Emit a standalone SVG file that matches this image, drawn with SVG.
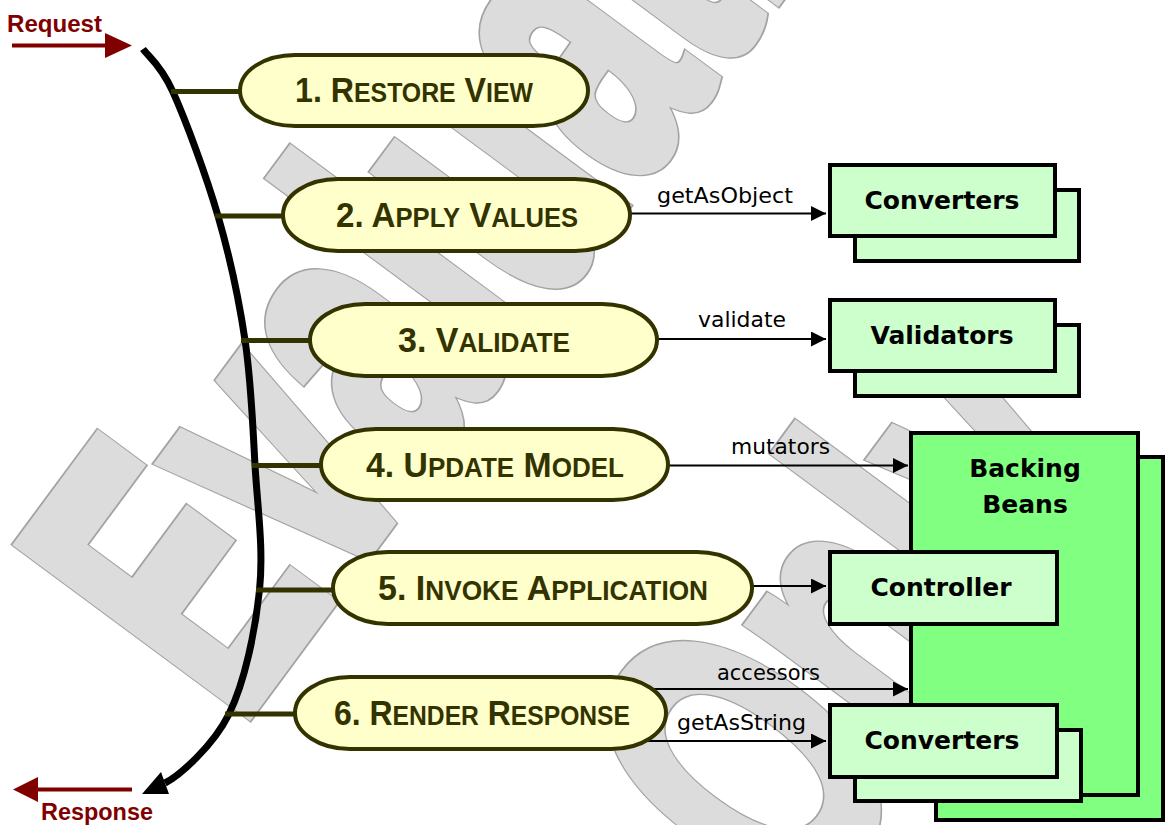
<svg xmlns="http://www.w3.org/2000/svg" width="1169" height="825" viewBox="0 0 1169 825">
<style>
.wmo{font-family:"Liberation Sans",Arial,sans-serif;font-weight:bold;font-size:409px;fill:none;stroke:#a3a3a3;stroke-width:15;stroke-linejoin:miter}
.wmi{font-family:"Liberation Sans",Arial,sans-serif;font-weight:bold;font-size:409px;fill:#dcdcdc;stroke:#dcdcdc;stroke-width:12;stroke-linejoin:miter}
.pill{fill:#ffffcc;stroke:#333300;stroke-width:4}
.ptxt{font-family:"Liberation Sans",Arial,sans-serif;font-weight:bold;fill:#333300;font-size:35px}
.sc{font-size:27px}
.tie{stroke:#333300;stroke-width:5;fill:none}
.box{fill:#ccffcc;stroke:#000;stroke-width:4}
.bean{fill:#80ff80;stroke:#000;stroke-width:4}
.btxt{font-family:"DejaVu Sans",Verdana,sans-serif;font-weight:bold;font-size:25px;fill:#000;text-anchor:middle}
.lbl{font-family:"DejaVu Sans",Verdana,sans-serif;font-size:21.5px;fill:#000}
.ln{stroke:#000;stroke-width:2;fill:none}
.io{font-family:"Liberation Sans",Arial,sans-serif;font-weight:bold;font-size:23px;fill:#800000}
</style>
<defs>
<marker id="ah" viewBox="0 0 15 15" refX="15" refY="7.5" markerWidth="15" markerHeight="15" markerUnits="userSpaceOnUse" orient="auto">
<path d="M0,0 L15,7.5 L0,15 z" fill="#000"/>
</marker>
</defs>

<g id="watermark">
<text class="wmo" vector-effect="non-scaling-stroke" transform="translate(237,726.5) rotate(-53.5) scale(0.61,1)">Evaluation</text>
<text class="wmo" vector-effect="non-scaling-stroke" transform="translate(800,923.5) rotate(-53.5) scale(0.61,1)">Only</text>
<text class="wmi" vector-effect="non-scaling-stroke" transform="translate(237,726.5) rotate(-53.5) scale(0.61,1)">Evaluation</text>
<text class="wmi" vector-effect="non-scaling-stroke" transform="translate(800,923.5) rotate(-53.5) scale(0.61,1)">Only</text>
</g>

<g id="request">
<line x1="12" y1="45.5" x2="107" y2="45.5" stroke="#800000" stroke-width="4"/>
<polygon points="105,33 132,45.5 105,58" fill="#800000"/>
<text class="io" x="7" y="32" textLength="95" lengthAdjust="spacingAndGlyphs">Request</text>
</g>
<g id="response">
<line x1="36" y1="789.5" x2="132" y2="789.5" stroke="#800000" stroke-width="4"/>
<polygon points="13,789.5 38,777 38,802" fill="#800000"/>
<text class="io" x="41" y="820" textLength="112" lengthAdjust="spacingAndGlyphs">Response</text>
</g>

<g id="connectors">
<path d="M143,49 C148,56.2 160.5,64.2 173,92 C185.5,119.8 206,174.7 218,216 C230,257.3 238.8,298.5 245,340 C251.2,381.5 252.6,423.3 255,465 C257.4,506.7 263.8,548.5 259.5,590 C255.2,631.5 244.75,682 229,714 C213.25,746 179,776 165,783" fill="none" stroke="#000" stroke-width="7"/>
<polygon points="142,794 169,794 161,772" fill="#000"/>
<line class="tie" x1="171" y1="91.5" x2="242" y2="91.5"/>
<line class="tie" x1="215" y1="216" x2="285" y2="216"/>
<line class="tie" x1="241" y1="340.5" x2="312" y2="340.5"/>
<line class="tie" x1="252" y1="465.5" x2="323" y2="465.5"/>
<line class="tie" x1="256" y1="590" x2="335" y2="590"/>
<line class="tie" x1="225" y1="714" x2="297" y2="714"/>
<line class="ln" x1="630" y1="213.5" x2="826" y2="213.5" marker-end="url(#ah)"/>
<line class="ln" x1="657" y1="339" x2="826" y2="339" marker-end="url(#ah)"/>
<line class="ln" x1="668" y1="465.5" x2="908" y2="465.5" marker-end="url(#ah)"/>
<line class="ln" x1="752" y1="586" x2="826" y2="586" marker-end="url(#ah)"/>
<line class="ln" x1="652" y1="689" x2="908" y2="689" marker-end="url(#ah)"/>
<line class="ln" x1="645" y1="741" x2="826" y2="741" marker-end="url(#ah)"/>
<text class="lbl" x="657" y="202.5" textLength="136" lengthAdjust="spacingAndGlyphs">getAsObject</text>
<text class="lbl" x="698" y="326.5" textLength="88" lengthAdjust="spacingAndGlyphs">validate</text>
<text class="lbl" x="731" y="454" textLength="99" lengthAdjust="spacingAndGlyphs">mutators</text>
<text class="lbl" x="717" y="680" textLength="103" lengthAdjust="spacingAndGlyphs">accessors</text>
<text class="lbl" x="677" y="729.5" textLength="129" lengthAdjust="spacingAndGlyphs">getAsString</text>
</g>

<g id="phase1">
<rect class="pill" x="240" y="55" width="348" height="71" rx="55" ry="35.5"/>
<text class="ptxt" x="295" y="102" textLength="238" lengthAdjust="spacingAndGlyphs">1. R<tspan class="sc">ESTORE</tspan> V<tspan class="sc">IEW</tspan></text>
</g>
<g id="phase2">
<rect class="pill" x="283" y="179" width="347" height="72" rx="55" ry="36"/>
<text class="ptxt" x="336" y="226.5" textLength="242" lengthAdjust="spacingAndGlyphs">2. A<tspan class="sc">PPLY</tspan> V<tspan class="sc">ALUES</tspan></text>
</g>
<g id="phase3">
<rect class="pill" x="310" y="304" width="347" height="72" rx="55" ry="36"/>
<text class="ptxt" x="398" y="351.5" textLength="172" lengthAdjust="spacingAndGlyphs">3. V<tspan class="sc">ALIDATE</tspan></text>
</g>
<g id="phase4">
<rect class="pill" x="321" y="429" width="347" height="71" rx="55" ry="35.5"/>
<text class="ptxt" x="366" y="476.5" textLength="258" lengthAdjust="spacingAndGlyphs">4. U<tspan class="sc">PDATE</tspan> M<tspan class="sc">ODEL</tspan></text>
</g>
<g id="phase5">
<rect class="pill" x="333" y="552" width="419" height="72" rx="55" ry="36"/>
<text class="ptxt" x="378" y="599.5" textLength="330" lengthAdjust="spacingAndGlyphs">5. I<tspan class="sc">NVOKE</tspan> A<tspan class="sc">PPLICATION</tspan></text>
</g>
<g id="phase6">
<rect class="pill" x="295" y="677" width="371" height="72" rx="55" ry="36"/>
<text class="ptxt" x="334" y="724.5" textLength="296" lengthAdjust="spacingAndGlyphs">6. R<tspan class="sc">ENDER</tspan> R<tspan class="sc">ESPONSE</tspan></text>
</g>

<g id="converters-in">
<rect class="box" x="855" y="190" width="224" height="71"/>
<rect class="box" x="830" y="165" width="225" height="71"/>
<text class="btxt" x="942" y="209">Converters</text>
</g>
<g id="validators">
<rect class="box" x="855" y="325" width="224" height="71"/>
<rect class="box" x="830" y="300" width="225" height="71"/>
<text class="btxt" x="942" y="344">Validators</text>
</g>
<g id="backing-beans">
<rect class="bean" x="936" y="457" width="227" height="363"/>
<rect class="bean" x="911" y="433" width="227" height="362"/>
<text class="btxt" x="1025" y="476.5">Backing</text>
<text class="btxt" x="1025" y="512.5">Beans</text>
</g>
<g id="controller">
<rect class="box" x="830" y="552" width="227" height="72"/>
<text class="btxt" x="941" y="595.5">Controller</text>
</g>
<g id="converters-out">
<rect class="box" x="855" y="730" width="226" height="71"/>
<rect class="box" x="830" y="705" width="227" height="72"/>
<text class="btxt" x="942" y="749">Converters</text>
</g>
</svg>
